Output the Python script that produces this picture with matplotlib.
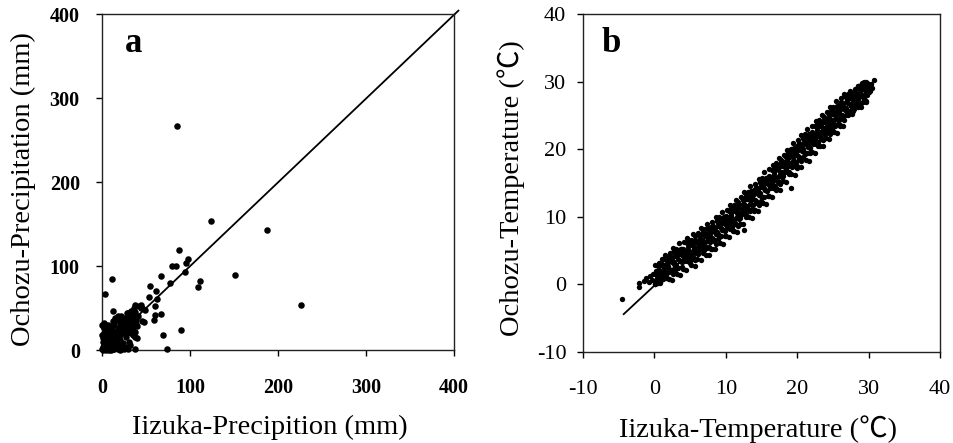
import matplotlib
matplotlib.use("Agg")
import matplotlib.pyplot as plt

# ---------------- Panel a: precipitation (mm) ----------------
iizuka_prec = [
    84.8, 124, 188, 150.6, 226, 89.7, 68.8, 73.4, 37,
    97.3, 95, 88, 83.7, 80, 94, 109, 111.4, 76.8, 67.3, 55, 61.6, 53.6, 62.4, 60,
    66.5, 59.3, 59.7, 49.4, 45, 37, 11.4, 3, 12.5, 15, 0, 22, 44.7,
    0.5, 1, 1.5, 2, 0.8, 1.2, 1.8, 2.5, 1, 3, 0.5, 2.2, 3.5, 4, 5, 6, 7, 8, 9, 10,
    12, 14, 16, 18, 20, 22, 25, 28, 30, 3, 4, 5, 6, 4.5, 6.5, 7.5, 8, 9, 10, 11,
    12, 13, 14, 15, 16, 17, 18, 19, 20, 21, 22, 23, 24, 25, 26, 27, 28, 29, 30,
    31, 32, 33, 34, 35, 36, 37, 38, 39, 40, 41, 42, 36, 33, 30, 26, 24, 20, 17,
    14, 10, 8, 12, 18, 22, 28, 35, 38, 26, 32, 15, 11, 7, 5, 2, 45, 44, 48, 40,
    27, 29, 31, 33, 24, 21, 19, 16, 13, 9, 34, 37, 39, 25, 23,
]
ochozu_prec = [
    267, 153, 142.6, 89.5, 53, 23.4, 18, 0.8, 0.8,
    108, 103, 119, 100, 100, 93, 75, 82, 79.6, 88, 76, 70.5, 63, 60.6, 52,
    43, 35.6, 41.6, 47.5, 49.5, 53.5, 84, 67, 46.7, 37.6, 29.7, 37.7, 53.6,
    1, 3, 0.5, 6, 10, 14, 20, 26, 29, 24, 18, 8, 4, 1, 0.5, 2, 1, 0.3, 1.5, 0.5,
    1, 0.8, 2, 1, 0.5, 1.5, 0.8, 2, 1, 12, 16, 9, 13, 21, 6, 18, 10, 5, 14, 8,
    19, 4, 12, 22, 9, 15, 26, 6, 18, 12, 24, 30, 8, 20, 28, 15, 34, 24, 38,
    10, 30, 20, 42, 26, 33, 15, 45, 36, 28, 40, 52, 50, 46, 44, 38, 34, 32, 36,
    30, 28, 24, 34, 40, 40, 44, 18, 22, 4, 6, 3, 24, 30, 27, 32, 35, 50, 33, 14,
    25, 32, 22, 36, 28, 26, 22, 20, 18, 16, 35, 40, 31, 30, 27,
]

# ---------------- Panel b: temperature (deg C) ----------------
iizuka_temp = [
    -4.6, -2.1, -2.1, -1.5, -1.2, -0.8, -0.6, -0.4, -0.2,
    0.05, 0.2, 0.3, 0.45, 0.5, 0.6, 0.75, 0.8, 0.9, 0.97,
    1.1, 1.15, 1.35, 1.4, 1.55, 1.65, 1.7, 1.85, 1.92, 1.99,
    2.05, 2.2, 2.3, 2.45, 2.5, 2.6, 2.75, 2.8, 2.9, 2.97,
    3.1, 3.15, 3.35, 3.4, 3.55, 3.65, 3.7, 3.85, 3.92, 3.99,
    4.05, 4.2, 4.3, 4.45, 4.5, 4.6, 4.75, 4.8, 4.9, 4.97,
    5.1, 5.15, 5.35, 5.4, 5.55, 5.65, 5.7, 5.85, 5.92, 5.99,
    6.05, 6.2, 6.3, 6.45, 6.5, 6.6, 6.75, 6.8, 6.9, 6.97,
    7.1, 7.15, 7.35, 7.4, 7.55, 7.65, 7.7, 7.85, 7.92, 7.99,
    8.05, 8.2, 8.3, 8.45, 8.5, 8.6, 8.75, 8.8, 8.9, 8.97,
    9.1, 9.15, 9.35, 9.4, 9.55, 9.65, 9.7, 9.85, 9.92, 9.99,
    10.05, 10.2, 10.3, 10.45, 10.5, 10.6, 10.75, 10.8, 10.9, 10.97,
    11.1, 11.15, 11.35, 11.4, 11.55, 11.65, 11.7, 11.85, 11.92, 11.99,
    12.05, 12.2, 12.3, 12.45, 12.5, 12.6, 12.75, 12.8, 12.9, 12.97,
    13.1, 13.15, 13.35, 13.4, 13.55, 13.65, 13.7, 13.85, 13.92, 13.99,
    14.05, 14.2, 14.3, 14.45, 14.5, 14.6, 14.75, 14.8, 14.9, 14.97,
    15.1, 15.15, 15.35, 15.4, 15.55, 15.65, 15.7, 15.85, 15.92, 15.99,
    16.05, 16.2, 16.3, 16.45, 16.5, 16.6, 16.75, 16.8, 16.9, 16.97,
    17.1, 17.15, 17.35, 17.4, 17.55, 17.65, 17.7, 17.85, 17.92, 17.99,
    18.05, 18.2, 18.3, 18.45, 18.5, 18.6, 18.75, 18.8, 18.9, 18.97,
    19.1, 19.15, 19.35, 19.4, 19.55, 19.65, 19.7, 19.85, 19.92, 19.99,
    20.05, 20.2, 20.3, 20.45, 20.5, 20.6, 20.75, 20.8, 20.9, 20.97,
    21.1, 21.15, 21.35, 21.4, 21.55, 21.65, 21.7, 21.85, 21.92, 21.99,
    22.05, 22.2, 22.3, 22.45, 22.5, 22.6, 22.75, 22.8, 22.9, 22.97,
    23.1, 23.15, 23.35, 23.4, 23.55, 23.65, 23.7, 23.85, 23.92, 23.99,
    24.05, 24.2, 24.3, 24.45, 24.5, 24.6, 24.75, 24.8, 24.9, 24.97,
    25.1, 25.15, 25.35, 25.4, 25.55, 25.65, 25.7, 25.85, 25.92, 25.99,
    26.05, 26.2, 26.3, 26.45, 26.5, 26.6, 26.75, 26.8, 26.9, 26.97,
    27.1, 27.15, 27.35, 27.4, 27.55, 27.65, 27.7, 27.85, 27.92, 27.99,
    28.05, 28.2, 28.3, 28.45, 28.5, 28.6, 28.75, 28.8, 28.9, 28.97,
    29.1, 29.15, 29.35, 29.4, 29.55, 29.65, 29.7, 29.85, 29.92, 29.99,
    30.1, 30.2, 30.4, 30.5, 30.8,
    19.2, 24.6, 12.5,
    # second pass of readings
    0.02, 0.12, 0.27, 0.38, 0.47, 0.58, 0.68, 0.77, 0.88, 0.93,
    1.08, 1.18, 1.22, 1.33, 1.42, 1.52, 1.63, 1.72, 1.82, 1.97,
    2.02, 2.12, 2.27, 2.38, 2.47, 2.58, 2.68, 2.77, 2.88, 2.93,
    3.08, 3.18, 3.22, 3.33, 3.42, 3.52, 3.63, 3.72, 3.82, 3.97,
    4.02, 4.12, 4.27, 4.38, 4.47, 4.58, 4.68, 4.77, 4.88, 4.93,
    5.08, 5.18, 5.22, 5.33, 5.42, 5.52, 5.63, 5.72, 5.82, 5.97,
    6.02, 6.12, 6.27, 6.38, 6.47, 6.58, 6.68, 6.77, 6.88, 6.93,
    7.08, 7.18, 7.22, 7.33, 7.42, 7.52, 7.63, 7.72, 7.82, 7.97,
    8.02, 8.12, 8.27, 8.38, 8.47, 8.58, 8.68, 8.77, 8.88, 8.93,
    9.08, 9.18, 9.22, 9.33, 9.42, 9.52, 9.63, 9.72, 9.82, 9.97,
    10.02, 10.12, 10.27, 10.38, 10.47, 10.58, 10.68, 10.77, 10.88, 10.93,
    11.08, 11.18, 11.22, 11.33, 11.42, 11.52, 11.63, 11.72, 11.82, 11.97,
    12.02, 12.12, 12.27, 12.38, 12.47, 12.58, 12.68, 12.77, 12.88, 12.93,
    13.08, 13.18, 13.22, 13.33, 13.42, 13.52, 13.63, 13.72, 13.82, 13.97,
    14.02, 14.12, 14.27, 14.38, 14.47, 14.58, 14.68, 14.77, 14.88, 14.93,
    15.08, 15.18, 15.22, 15.33, 15.42, 15.52, 15.63, 15.72, 15.82, 15.97,
    16.02, 16.12, 16.27, 16.38, 16.47, 16.58, 16.68, 16.77, 16.88, 16.93,
    17.08, 17.18, 17.22, 17.33, 17.42, 17.52, 17.63, 17.72, 17.82, 17.97,
    18.02, 18.12, 18.27, 18.38, 18.47, 18.58, 18.68, 18.77, 18.88, 18.93,
    19.08, 19.18, 19.22, 19.33, 19.42, 19.52, 19.63, 19.72, 19.82, 19.97,
    20.02, 20.12, 20.27, 20.38, 20.47, 20.58, 20.68, 20.77, 20.88, 20.93,
    21.08, 21.18, 21.22, 21.33, 21.42, 21.52, 21.63, 21.72, 21.82, 21.97,
    22.02, 22.12, 22.27, 22.38, 22.47, 22.58, 22.68, 22.77, 22.88, 22.93,
    23.08, 23.18, 23.22, 23.33, 23.42, 23.52, 23.63, 23.72, 23.82, 23.97,
    24.02, 24.12, 24.27, 24.38, 24.47, 24.58, 24.68, 24.77, 24.88, 24.93,
    25.08, 25.18, 25.22, 25.33, 25.42, 25.52, 25.63, 25.72, 25.82, 25.97,
    26.02, 26.12, 26.27, 26.38, 26.47, 26.58, 26.68, 26.77, 26.88, 26.93,
    27.08, 27.18, 27.22, 27.33, 27.42, 27.52, 27.63, 27.72, 27.82, 27.97,
    28.02, 28.12, 28.27, 28.38, 28.47, 28.58, 28.68, 28.77, 28.88, 28.93,
    29.08, 29.18, 29.22, 29.33, 29.42, 29.52, 29.63, 29.72, 29.82, 29.97,
]
ochozu_temp = [
    -2.2, 0.2, -0.4, 0.5, 1.0, 0.3, 1.2, 0.6, 1.6,
    0.0, 2.0, 1.3, 2.7, 1.0, 2.1, 2.9, 0.2, 2.8, 1.8,
    3.0, 1.2, 2.5, 1.9, 3.8, 1.1, 3.2, 2.7, 4.0, 0.8,
    2.3, 4.2, 1.9, 3.9, 3.3, 1.5, 5.0, 3.3, 4.2, 2.9,
    2.4, 4.4, 3.7, 5.1, 3.4, 4.5, 5.3, 2.6, 5.2, 4.2,
    5.3, 3.5, 4.8, 4.2, 6.1, 3.4, 5.5, 5.0, 6.3, 3.1,
    4.4, 6.3, 4.0, 6.0, 5.4, 3.6, 7.1, 5.4, 6.3, 5.0,
    4.5, 6.5, 5.8, 7.2, 5.5, 6.6, 7.4, 4.7, 7.3, 6.3,
    7.5, 5.7, 7.0, 6.4, 8.3, 5.6, 7.7, 7.2, 8.5, 5.3,
    6.8, 8.7, 6.4, 8.4, 7.8, 6.0, 9.5, 7.8, 8.7, 7.4,
    7.0, 9.0, 8.3, 9.7, 8.0, 9.1, 9.9, 7.2, 9.8, 8.8,
    10.1, 8.3, 9.6, 9.0, 10.9, 8.2, 10.3, 9.8, 11.1, 7.9,
    9.5, 11.4, 9.1, 11.1, 10.5, 8.7, 12.2, 10.5, 11.4, 10.1,
    9.8, 11.8, 11.1, 12.5, 10.8, 11.9, 12.7, 10.0, 12.6, 11.6,
    13.0, 11.2, 12.5, 11.9, 13.8, 11.1, 13.2, 12.7, 14.0, 10.8,
    12.5, 14.4, 12.1, 14.1, 13.5, 11.7, 15.2, 13.5, 14.4, 13.1,
    12.9, 14.9, 14.2, 15.6, 13.9, 15.0, 15.8, 13.1, 15.7, 14.7,
    16.1, 14.3, 15.6, 15.0, 16.9, 14.2, 16.3, 15.8, 17.1, 13.9,
    15.7, 17.6, 15.3, 17.3, 16.7, 14.9, 18.4, 16.7, 17.6, 16.3,
    16.1, 18.1, 17.4, 18.8, 17.1, 18.2, 19.0, 16.3, 18.9, 17.9,
    19.4, 17.6, 18.9, 18.3, 20.2, 17.5, 19.6, 19.1, 20.4, 17.2,
    19.0, 20.9, 18.6, 20.6, 20.0, 18.2, 21.7, 20.0, 20.9, 19.6,
    19.3, 21.3, 20.6, 22.0, 20.3, 21.4, 22.2, 19.5, 22.1, 21.1,
    22.6, 20.8, 22.1, 21.5, 23.4, 20.7, 22.8, 22.3, 23.6, 20.4,
    22.1, 24.0, 21.7, 23.7, 23.1, 21.3, 24.8, 23.1, 24.0, 22.7,
    22.4, 24.4, 23.7, 25.1, 23.4, 24.5, 25.3, 22.6, 25.2, 24.2,
    25.6, 23.8, 25.1, 24.5, 26.4, 23.7, 25.8, 25.3, 26.6, 23.4,
    25.1, 27.0, 24.7, 26.7, 26.1, 24.3, 27.8, 26.1, 27.0, 25.7,
    25.4, 27.4, 26.7, 28.1, 26.4, 27.5, 28.3, 25.6, 28.2, 27.2,
    28.5, 26.7, 28.0, 27.4, 29.3, 26.6, 28.7, 28.2, 29.5, 26.3,
    27.8, 29.7, 27.4, 29.4, 28.8, 27.0, 29.9, 28.8, 29.7, 28.4,
    29.2, 28.6, 29.6, 29.0, 30.2,
    14.2, 22.3, 8.0,
    # second pass of readings
    0.0, 2.9, 0.6, 1.9, 0.2, 3.2, 1.4, 3.0, 0.6, 2.8,
    3.7, 0.8, 2.9, 1.2, 4.3, 1.9, 0.9, 3.7, 1.7, 3.3,
    0.8, 4.7, 2.2, 3.5, 0.7, 5.4, 3.0, 4.9, 2.2, 4.6,
    5.3, 1.5, 4.5, 2.5, 6.1, 3.5, 1.4, 5.3, 3.3, 4.9,
    2.3, 6.2, 3.7, 5.0, 2.2, 6.9, 4.5, 6.4, 3.7, 6.1,
    6.6, 2.8, 5.8, 3.8, 7.4, 4.8, 2.7, 6.6, 4.6, 6.2,
    3.7, 7.6, 5.1, 6.4, 3.6, 8.3, 5.9, 7.8, 5.1, 7.5,
    8.2, 4.4, 7.4, 5.4, 9.0, 6.4, 4.3, 8.2, 6.2, 7.8,
    5.3, 9.2, 6.7, 8.0, 5.2, 9.9, 7.5, 9.4, 6.7, 9.1,
    9.9, 6.1, 9.1, 7.1, 10.7, 8.1, 6.0, 9.9, 7.9, 9.5,
    7.1, 11.0, 8.5, 9.8, 7.0, 11.7, 9.3, 11.2, 8.5, 10.9,
    11.7, 7.9, 10.9, 8.9, 12.5, 9.9, 7.8, 11.7, 9.7, 11.3,
    9.0, 12.9, 10.4, 11.7, 8.9, 13.6, 11.2, 13.1, 10.4, 12.8,
    13.7, 9.9, 12.9, 10.9, 14.5, 11.9, 9.8, 13.7, 11.7, 13.3,
    11.0, 14.9, 12.4, 13.7, 10.9, 15.6, 13.2, 15.1, 12.4, 14.8,
    15.8, 12.0, 15.0, 13.0, 16.6, 14.0, 11.9, 15.8, 13.8, 15.4,
    13.1, 17.0, 14.5, 15.8, 13.0, 17.7, 15.3, 17.2, 14.5, 16.9,
    17.9, 14.1, 17.1, 15.1, 18.7, 16.1, 14.0, 17.9, 15.9, 17.5,
    15.3, 19.2, 16.7, 18.0, 15.2, 19.9, 17.5, 19.4, 16.7, 19.1,
    20.1, 16.3, 19.3, 17.3, 20.9, 18.3, 16.2, 20.1, 18.1, 19.7,
    17.5, 21.4, 18.9, 20.2, 17.4, 22.1, 19.7, 21.6, 18.9, 21.3,
    22.2, 18.4, 21.4, 19.4, 23.0, 20.4, 18.3, 22.2, 20.2, 21.8,
    19.6, 23.5, 21.0, 22.3, 19.5, 24.2, 21.8, 23.7, 21.0, 23.4,
    24.3, 20.5, 23.5, 21.5, 25.1, 22.5, 20.4, 24.3, 22.3, 23.9,
    21.6, 25.5, 23.0, 24.3, 21.5, 26.2, 23.8, 25.7, 23.0, 25.4,
    26.3, 22.5, 25.5, 23.5, 27.1, 24.5, 22.4, 26.3, 24.3, 25.9,
    23.6, 27.5, 25.0, 26.3, 23.5, 28.2, 25.8, 27.7, 25.0, 27.4,
    28.1, 25.0, 27.5, 25.7, 28.6, 26.5, 25.2, 28.3, 26.3, 27.9,
    26.0, 28.9, 26.9, 28.2, 26.2, 29.4, 27.7, 29.4, 26.9, 29.3,
    29.8, 27.0, 29.2, 27.6, 29.9, 28.2, 27.2, 29.8, 28.0, 29.6,
]

prec_line_x = [0, 405]
prec_line_y = [0, 404]
temp_line_x = [-4.3, 30.5]
temp_line_y = [-4.4, 29.8]

prec_ticks = [0, 100, 200, 300, 400]
temp_ticks = [-10, 0, 10, 20, 30, 40]

SERIF = ["Liberation Serif", "Noto Sans CJK JP", "DejaVu Sans"]
plt.rcParams["font.family"] = SERIF
plt.rcParams["axes.unicode_minus"] = False

W, H = 954, 443
fig = plt.figure(figsize=(W / 100, H / 100), dpi=100)


def fx(px):
    return px / W


def fy(py):
    return 1 - py / H


ax_a = fig.add_axes([fx(102), fy(350), fx(454) - fx(102), fy(14) - fy(350)])
ax_b = fig.add_axes([fx(583), fy(352), fx(940) - fx(583), fy(14) - fy(352)])

# Panel a
ax_a.scatter(iizuka_prec, ochozu_prec, s=22, c="black", linewidths=0, zorder=3,
             clip_on=False)
ax_a.plot(prec_line_x, prec_line_y, color="black", lw=1.3, clip_on=False, zorder=2)
ax_a.set_xlim(0, 400)
ax_a.set_ylim(0, 400)
ax_a.set_xticks(prec_ticks)
ax_a.set_yticks(prec_ticks)
ax_a.tick_params(axis="x", direction="out", length=4, width=1, pad=16,
                 labelsize=14.5)
ax_a.tick_params(axis="y", direction="out", length=4, width=1, pad=12,
                 labelsize=14.5)
for lab in ax_a.get_xticklabels() + ax_a.get_yticklabels():
    lab.set_fontweight("bold")

# Panel b
ax_b.scatter(iizuka_temp, ochozu_temp, s=15, c="black", linewidths=0, zorder=3)
ax_b.plot(temp_line_x, temp_line_y, color="black", lw=1.3, zorder=2)
ax_b.set_xlim(-10, 40)
ax_b.set_ylim(-10, 40)
ax_b.set_xticks(temp_ticks)
ax_b.set_yticks(temp_ticks)
ax_b.tick_params(axis="x", direction="out", length=4, width=1, pad=16,
                 labelsize=16)
ax_b.tick_params(axis="y", direction="out", length=4, width=1, pad=8,
                 labelsize=16)

for ax in (ax_a, ax_b):
    for sp in ax.spines.values():
        sp.set_linewidth(1.0)
        sp.set_color("#222222")

# Axis titles
fig.text(fx(270), fy(427), "Iizuka-Precipition (mm)", ha="center", va="center",
         fontsize=20.5)
fig.text(fx(23), fy(189), "Ochozu-Precipitation (mm)", ha="center", va="center",
         rotation=90, fontsize=20.5)
fig.text(fx(758), fy(429), "Iizuka-Temperature (\u2103)", ha="center", va="center",
         fontsize=20.5)
fig.text(fx(511), fy(188), "Ochozu-Temperature (\u2103)", ha="center", va="center",
         rotation=90, fontsize=20.5)

# Panel letters
fig.text(fx(134), fy(52), "a", ha="center", va="baseline", fontsize=25,
         fontweight="bold")
fig.text(fx(611), fy(52), "b", ha="center", va="baseline", fontsize=25,
         fontweight="bold")

fig.savefig("out.png", dpi=100)
